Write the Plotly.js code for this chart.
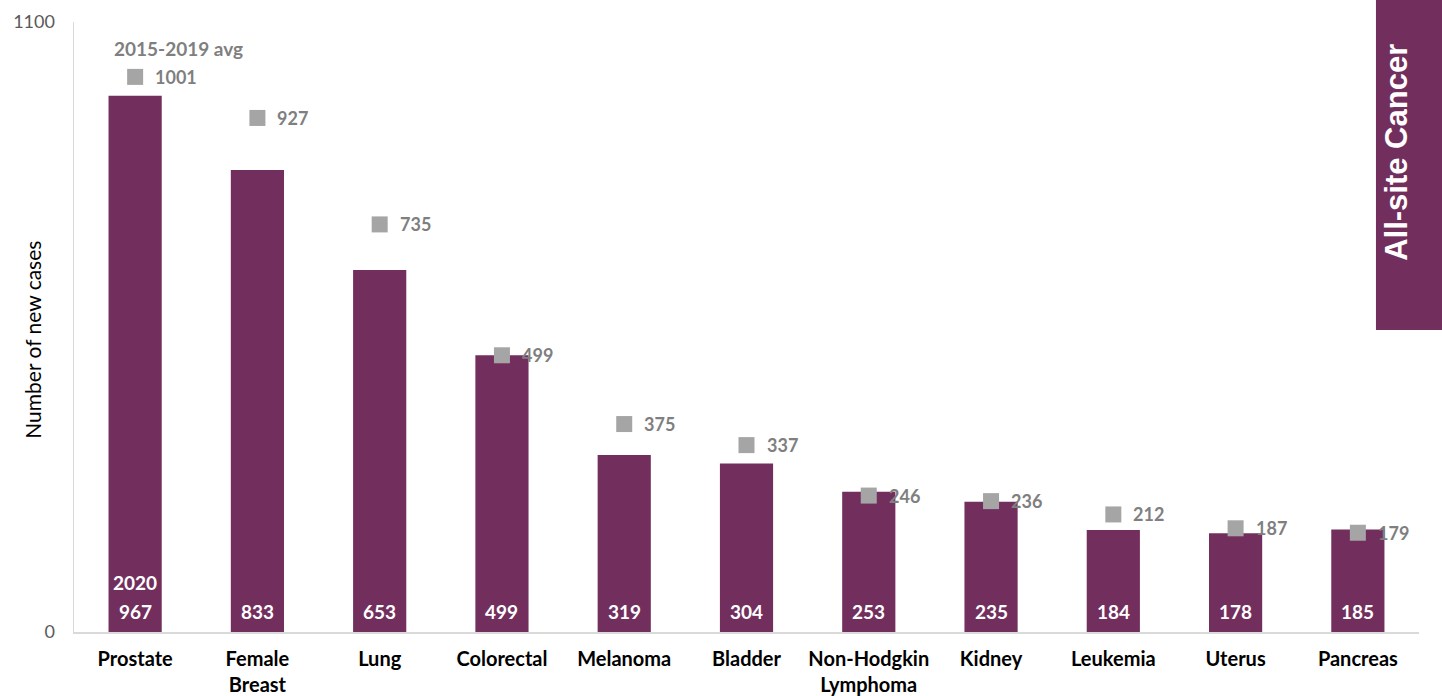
<!DOCTYPE html>
<html><head><meta charset="utf-8">
<script src="https://cdn.plot.ly/plotly-3.0.1.min.js"></script>
<style>html,body{margin:0;padding:0;background:#fff}#chart{width:1442px;height:696px}</style>
</head><body><div id="chart"></div>
<script>
const categories = ["Prostate","Female<br>Breast","Lung","Colorectal","Melanoma","Bladder","Non-Hodgkin<br>Lymphoma","Kidney","Leukemia","Uterus","Pancreas"];
const cases2020 = [967,833,653,499,319,304,253,235,184,178,185];
const avg2015_2019 = [1001,927,735,499,375,337,246,236,212,187,179];
const yTicks = [0,1100];

const FONT = 'Lato, "Open Sans", sans-serif';

const bars = {
  type:'bar', x:categories, y:cases2020, width:0.435,
  marker:{color:'#722f5e'}, hoverinfo:'x+y'
};
const avg = {
  type:'scatter', mode:'markers', x:categories, y:avg2015_2019,
  marker:{symbol:'square', size:16, color:'#a5a5a5'}, cliponaxis:false
};

const annotations = [];
cases2020.forEach((v,i)=>{
  annotations.push({xref:'x', yref:'y', x:categories[i], y:0, yshift:21, yanchor:'middle', text:String(v), showarrow:false,
    font:{family:FONT, size:19, color:'#ffffff', weight:'bold'}});
});
annotations.push({xref:'x', yref:'y', x:categories[0], y:0, yshift:50, yanchor:'middle', text:'2020', showarrow:false,
    font:{family:FONT, size:19, color:'#ffffff', weight:'bold'}});
avg2015_2019.forEach((v,i)=>{
  annotations.push({xref:'x', yref:'y', x:categories[i], y:v, xanchor:'left', xshift:18, yanchor:'middle', text:String(v), showarrow:false,
    font:{family:FONT, size:18, color:'#7f7f7f', weight:'bold'}});
});
annotations.push({xref:'x', yref:'y', x:categories[0], y:avg2015_2019[0], yshift:28, xshift:43, xanchor:'center', yanchor:'middle',
  text:'2015-2019 avg', showarrow:false, font:{family:FONT, size:19, color:'#7f7f7f', weight:'bold'}});
annotations.push({xref:'paper', yref:'paper', x:0.9836, y:0.787, text:'All-site Cancer', textangle:-90, showarrow:false,
  xanchor:'center', yanchor:'middle',
  font:{family:'"Liberation Sans", Arial, sans-serif', size:31, color:'#ffffff', weight:'bold'}});
annotations.push({xref:'paper', yref:'paper', x:-0.0305, y:0.479, text:'Number of new cases', textangle:-90, showarrow:false,
  xanchor:'center', yanchor:'middle',
  font:{family:FONT, size:21, color:'#000000'}});

const layout = {
  width:1442, height:696,
  margin:{l:74, r:23, t:22, b:64},
  paper_bgcolor:'#ffffff', plot_bgcolor:'#ffffff',
  showlegend:false,
  xaxis:{type:'category', range:[-0.5,10.5], showline:true, linecolor:'#d9d9d9', linewidth:1.5, ticks:'', showgrid:false,
    ticklabelstandoff:8,
    tickfont:{family:FONT, size:20, color:'#000000', weight:'bold'}},
  yaxis:{range:[0,1100], tickvals:yTicks, ticktext:yTicks.map(String), showline:true, linecolor:'#d9d9d9', linewidth:1.5,
    showgrid:false, zeroline:false, ticks:'', ticklabelstandoff:14,
    tickfont:{family:FONT, size:18, color:'#595959'}},
  annotations:annotations,
  shapes:[
    {type:'rect', xref:'paper', yref:'paper', x0:0.968, x1:1.02, y0:0.495, y1:1.04, fillcolor:'#722f5e', line:{width:0}, layer:'above'}
  ]
};
Plotly.newPlot('chart',[bars,avg],layout,{displayModeBar:false, staticPlot:true});
</script></body></html>
